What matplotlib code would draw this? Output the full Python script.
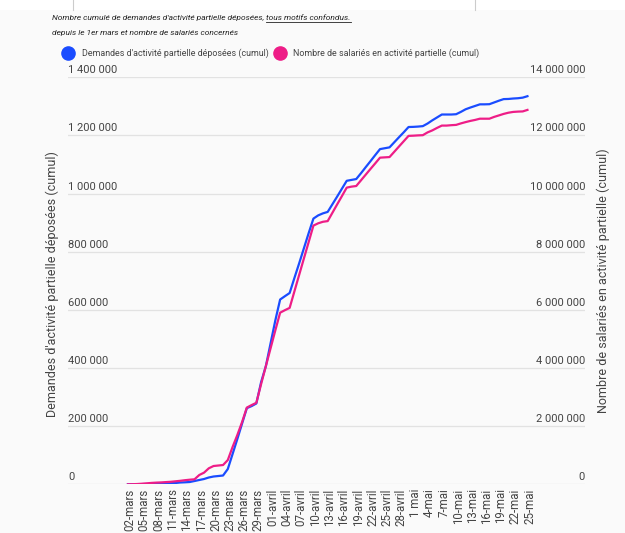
import numpy as np
import matplotlib
matplotlib.use("Agg")
import matplotlib.pyplot as plt
import matplotlib.transforms as mtransforms
from matplotlib.lines import Line2D
from matplotlib.patches import Rectangle

plt.rcParams["font.family"] = ["Roboto", "DejaVu Sans"]

# demandes cumulees (milliers), un point par jour du 02-mars au 25-mai
demandes_k = [
    0, 0, 0.3, 0.7, 1.0, 1.0, 1.0, 1.7, 2.7, 3.8,
    4.5, 6.2, 6.9, 7.9, 11.3, 14.8, 18.2, 23.4, 26.8, 28.5,
    30.2, 52.6, 104, 155.6, 209, 262, 269, 278, 351.5, 406.5,
    485.5, 564.5, 635.6, 647, 658, 709.5, 760, 812, 864, 914,
    925, 932, 937, 963.5, 990, 1017, 1044, 1047, 1050, 1070,
    1091, 1111.5, 1132.5, 1153, 1156, 1159, 1176.5, 1194, 1211, 1229,
    1229.5, 1230.5, 1232, 1241, 1252, 1262, 1272, 1272, 1272, 1273,
    1281, 1290, 1296, 1301.5, 1307, 1307, 1307.5, 1313.5, 1319.5, 1325,
    1325.5, 1327, 1328, 1330, 1335,
]
# salaries concernes cumules (millions)
salaries_m = [
    0, 0.003, 0.010, 0.021, 0.034, 0.048, 0.058, 0.065, 0.076, 0.086,
    0.103, 0.120, 0.141, 0.158, 0.172, 0.320, 0.400, 0.550, 0.629, 0.646,
    0.663, 0.835, 1.282, 1.694, 2.141, 2.639, 2.725, 2.804, 3.446, 4.065,
    4.683, 5.302, 5.903, 5.989, 6.068, 6.635, 7.202, 7.769, 8.332, 8.899,
    8.978, 9.030, 9.054, 9.342, 9.631, 9.916, 10.205, 10.239, 10.260, 10.456,
    10.652, 10.848, 11.040, 11.236, 11.246, 11.256, 11.438, 11.621, 11.803, 11.985,
    11.992, 12.002, 12.009, 12.105, 12.174, 12.260, 12.339, 12.339, 12.353, 12.363,
    12.414, 12.459, 12.500, 12.534, 12.576, 12.576, 12.576, 12.638, 12.689, 12.741,
    12.782, 12.809, 12.820, 12.826, 12.878,
]
etiquettes_x = [
    "02-mars", "05-mars", "08-mars", "11-mars", "14-mars", "17-mars", "20-mars",
    "23-mars", "26-mars", "29-mars", "01-avril", "04-avril", "07-avril", "10-avril",
    "13-avril", "16-avril", "19-avril", "22-avril", "25-avril", "28-avril",
    "1 mai", "4-mai", "7-mai", "10-mai", "13-mai", "16-mai", "19-mai", "22-mai", "25-mai",
]
ticks_gauche = [0, 200000, 400000, 600000, 800000, 1000000, 1200000, 1400000]
ticks_droite = [0, 2000000, 4000000, 6000000, 8000000, 10000000, 12000000, 14000000]

BLEU = "#1a4cff"
ROSE = "#ee1d87"
GRIS = "#444444"
W, H = 625, 533


def fx(px):
    return px / W


def fy(py):
    return 1 - py / H


def espace(v):
    return f"{int(v):,}".replace(",", " ")


jours = np.arange(len(demandes_k))
demandes = np.array(demandes_k) * 1000
salaries = np.array(salaries_m) * 1e6

fig = plt.figure(figsize=(W / 100, H / 100), dpi=100, facecolor="#fafafa")
fig.patches.append(Rectangle((0, fy(10)), 1, 1 - fy(10), transform=fig.transFigure,
                             facecolor="white", edgecolor="none", zorder=0))
for xl in (73, 475):
    fig.add_artist(Line2D([fx(xl)] * 2, [fy(0), fy(10)], color="#cccccc", lw=0.8))

ax = fig.add_axes([fx(68), fy(484.3), fx(585) - fx(68), fy(77.3) - fy(484.3)])
ax.set_facecolor("none")
ax2 = ax.twinx()

ax.plot(jours, demandes, color=BLEU, lw=1.6, solid_joinstyle="round", zorder=3)
ax2.plot(jours, salaries, color=ROSE, lw=1.6, solid_joinstyle="round", zorder=3)

ax.set_xlim(-12.6, 96.1)
ax.set_ylim(0, 1400000)
ax2.set_ylim(0, 14000000)

for a in (ax, ax2):
    for s in a.spines.values():
        s.set_visible(False)
    a.set_yticks([])

for v in ticks_gauche:
    ax.axhline(v, color="#e2e2e2", lw=0.9, zorder=1)

tr_g = mtransforms.blended_transform_factory(ax.transAxes, ax.transData)
off = mtransforms.ScaledTranslation(0, 2 / 100, fig.dpi_scale_trans)
for v in ticks_gauche:
    ax.text(0, v, espace(v), transform=tr_g + off, ha="left", va="bottom",
            fontsize=8, color=GRIS)
tr_d = mtransforms.blended_transform_factory(ax2.transAxes, ax2.transData)
for v in ticks_droite:
    ax2.text(1, v, espace(v), transform=tr_d + off, ha="right", va="bottom",
             fontsize=8, color=GRIS)

ax.set_xticks(jours[::3])
ax.set_xticklabels(etiquettes_x, rotation=90, fontsize=8.3, color=GRIS)
ax.tick_params(axis="x", length=0, pad=3)
for lab in ax.get_xticklabels():
    lab.set_transform(lab.get_transform() +
                      mtransforms.ScaledTranslation(2 / 100, 0, fig.dpi_scale_trans))

fig.text(fx(52), fy(284), "Demandes d'activité partielle déposées (cumul)",
         rotation=90, ha="center", va="center", fontsize=9, color=GRIS)
fig.text(fx(603), fy(281), "Nombre de salariés en activité partielle (cumul)",
         rotation=90, ha="center", va="center", fontsize=9, color=GRIS)

# titre en deux morceaux, le second souligne
t1 = fig.text(fx(52), fy(18), "Nombre cumulé de demandes d'activité partielle déposées, ",
              ha="left", va="center", fontsize=6.0, style="italic", color="#222222")
r = fig.canvas.get_renderer()
bb = t1.get_window_extent(r)
t2 = fig.text(bb.x1 / W, fy(18), "tous motifs confondus.", ha="left", va="center",
              fontsize=6.0, style="italic", color="#222222")
bb2 = t2.get_window_extent(r)
fig.add_artist(Line2D([bb2.x0 / W, bb2.x1 / W], [(bb2.y0 - 0.5) / H] * 2,
                      color="#222222", lw=0.6))
fig.text(fx(52), fy(33), "depuis le 1er mars et nombre de salariés concernés",
         ha="left", va="center", fontsize=6.0, style="italic", color="#222222")

# legende
for cx, tx, lab, c in ((68, 82, "Demandes d'activité partielle déposées (cumul)", BLEU),
                       (280, 293, "Nombre de salariés en activité partielle (cumul)", ROSE)):
    fig.add_artist(Line2D([fx(cx)], [fy(53)], marker="o", markersize=9.5,
                          color=c, linestyle="none"))
    fig.text(fx(tx), fy(53), lab, ha="left", va="center", fontsize=6.4, color=GRIS)

fig.savefig("out.png", dpi=100, facecolor=fig.get_facecolor())
